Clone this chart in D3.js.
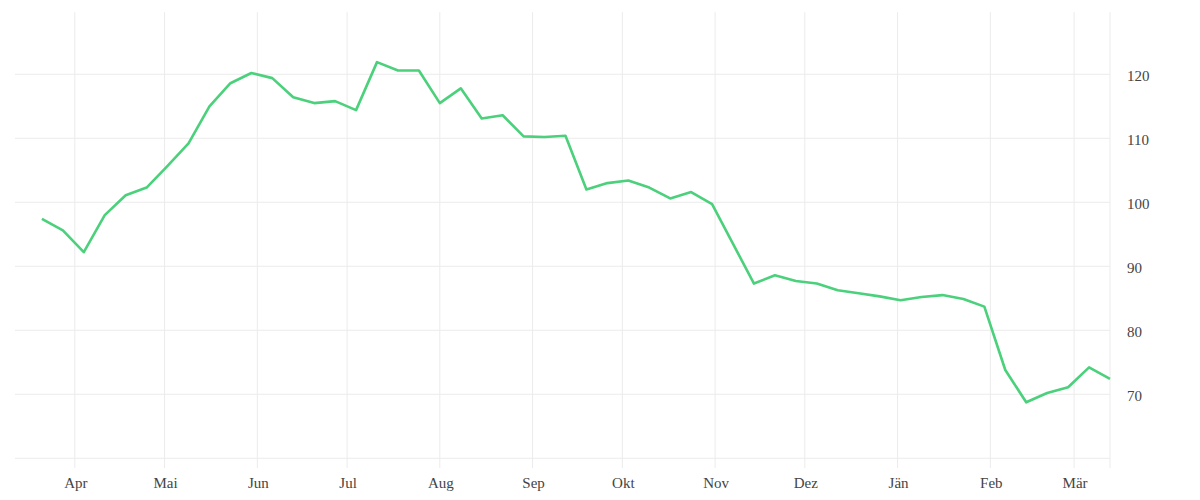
<!DOCTYPE html>
<html>
<head>
<meta charset="utf-8">
<script src="https://cdn.jsdelivr.net/npm/d3@7"></script>
<style>
	body { margin: 0; background: #fff; }
	svg text { font-family: 'Liberation Serif', serif; font-size: 15px; fill: #444; }
</style>
</head>
<body>
<div data-chart></div>
<script>
const dates = [
	'2022-03-21', '2022-03-28', '2022-04-04', '2022-04-11', '2022-04-18', '2022-04-25',
	'2022-05-02', '2022-05-09', '2022-05-16', '2022-05-23', '2022-05-30', '2022-06-06',
	'2022-06-13', '2022-06-20', '2022-06-27', '2022-07-04', '2022-07-11', '2022-07-18',
	'2022-07-25', '2022-08-01', '2022-08-08', '2022-08-15', '2022-08-22', '2022-08-29',
	'2022-09-05', '2022-09-12', '2022-09-19', '2022-09-26', '2022-10-03', '2022-10-10',
	'2022-10-17', '2022-10-24', '2022-10-31', '2022-11-07', '2022-11-14', '2022-11-21',
	'2022-11-28', '2022-12-05', '2022-12-12', '2022-12-19', '2022-12-26', '2023-01-02',
	'2023-01-09', '2023-01-16', '2023-01-23', '2023-01-30', '2023-02-06', '2023-02-13',
	'2023-02-20', '2023-02-27', '2023-03-06', '2023-03-13'
]

const values = [
	97.4, 95.6, 92.2, 98.0, 101.1, 102.3,
	105.7, 109.2, 115.0, 118.6, 120.2, 119.4,
	116.4, 115.5, 115.8, 114.4, 121.9, 120.6,
	120.6, 115.5, 117.8, 113.1, 113.6, 110.3,
	110.2, 110.4, 102.0, 103.0, 103.4, 102.3,
	100.6, 101.6, 99.7, 93.5, 87.3, 88.6,
	87.7, 87.3, 86.25, 85.8, 85.3, 84.7,
	85.2, 85.5, 84.9, 83.7, 73.8, 68.75,
	70.2, 71.1, 74.2, 72.4
]

const monthLabels = ['Apr', 'Mai', 'Jun', 'Jul', 'Aug', 'Sep', 'Okt', 'Nov', 'Dez', 'Jän', 'Feb', 'Mär']
const yTicks = [70, 80, 90, 100, 110, 120]
const yGrid = [60, 70, 80, 90, 100, 110, 120]

const dimensions = {
	width: 1200,
	height: 500,
	left: 15,
	right: 1110,
	top: 12.2,
	bottom: 458.3,
	tickBottom: 468
}

const parseDate = d3.timeParse('%Y-%m-%d')

const data = dates.map((d, i) => ({ date: parseDate(d), value: values[i] }))

const xAccessor = (d) => d.date
const yAccessor = (d) => d.value

const svg = d3.select('[data-chart]')
	.append('svg')
	.attr('width', dimensions.width)
	.attr('height', dimensions.height)

const xScale = d3.scaleTime()
	.domain([parseDate('2022-03-12'), parseDate('2023-03-13')])
	.range([dimensions.left, dimensions.right])

const yScale = d3.scaleLinear()
	.domain([60, 129.7])
	.range([dimensions.bottom, dimensions.top])

const months = xScale.ticks(d3.timeMonth.every(1))
	.filter((d) => xScale(d) > dimensions.left)

/* Grid */
const grid = svg.append('g')
	.attr('stroke', '#ebebeb')
	.attr('stroke-width', 1)

grid.selectAll('.h')
	.data(yGrid)
	.join('line')
	.attr('x1', dimensions.left)
	.attr('x2', dimensions.right)
	.attr('y1', (d) => yScale(d))
	.attr('y2', (d) => yScale(d))

grid.selectAll('.v')
	.data([...months, xScale.domain()[1]])
	.join('line')
	.attr('x1', (d) => xScale(d))
	.attr('x2', (d) => xScale(d))
	.attr('y1', dimensions.top)
	.attr('y2', dimensions.tickBottom)

/* Axes */
svg.append('g')
	.selectAll('text')
	.data(months)
	.join('text')
	.attr('x', (d) => xScale(d) + 1)
	.attr('y', 488)
	.attr('text-anchor', 'middle')
	.text((d, i) => monthLabels[i])

svg.append('g')
	.selectAll('text')
	.data(yTicks)
	.join('text')
	.attr('x', 1127)
	.attr('y', (d) => yScale(d) + 6.5)
	.text((d) => d)

/* Line */
const lineGenerator = d3.line()
	.x((d) => xScale(xAccessor(d)))
	.y((d) => yScale(yAccessor(d)))

svg.append('path')
	.datum(data)
	.attr('d', lineGenerator)
	.attr('fill', 'none')
	.attr('stroke', '#4bd07b')
	.attr('stroke-width', 2.6)
	.attr('stroke-linejoin', 'round')
</script>
</body>
</html>
